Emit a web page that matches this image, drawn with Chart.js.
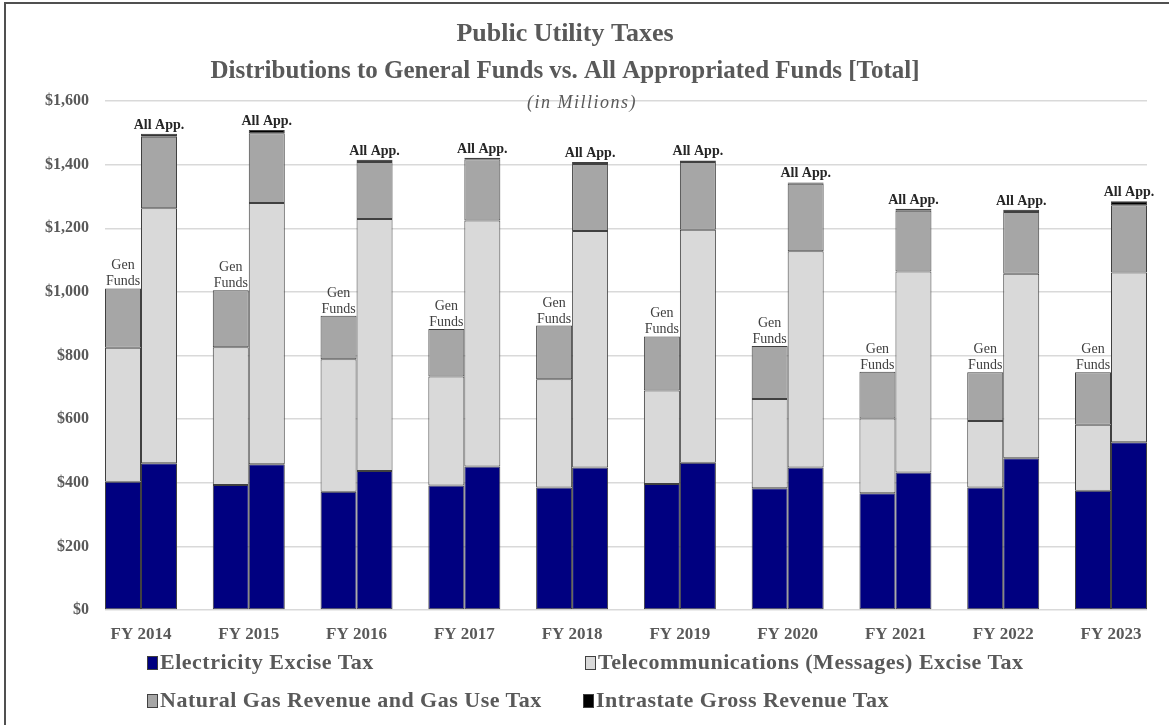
<!DOCTYPE html>
<html>
<head>
<meta charset="utf-8">
<script src="https://cdn.jsdelivr.net/npm/chart.js@4.4.1/dist/chart.umd.min.js"></script>
<style>
  html, body { margin: 0; padding: 0; background: #fff; }
  #wrap { position: relative; width: 1169px; height: 725px; overflow: hidden; background: #fff; }
  #frame { position: absolute; left: 4px; top: 2px; width: 1300px; height: 900px; border: 2px solid #505050; box-sizing: border-box; }
  #chart { position: absolute; left: 0; top: 0; }
  .lg { position: absolute; font-family: "Liberation Serif", "Times New Roman", serif; font-weight: bold; font-size: 22px; letter-spacing: 0.5px; color: #595959; white-space: nowrap; line-height: 24px; }
  .lg i { display: inline-block; width: 9px; height: 12px; border: 1px solid #404040; margin-right: 2px; vertical-align: -1px; }
</style>
</head>
<body>
<div id="wrap">
  <canvas id="chart" width="1169" height="725"></canvas>
  <div id="frame"></div>
  <div id="legend"></div>
</div>
<script>
// ---- data (in millions of dollars) ----
const categories = ['FY 2014', 'FY 2015', 'FY 2016', 'FY 2017', 'FY 2018', 'FY 2019', 'FY 2020', 'FY 2021', 'FY 2022', 'FY 2023'];
const seriesNames = ['Electricity Excise Tax', 'Telecommunications (Messages) Excise Tax', 'Natural Gas Revenue and Gas Use Tax', 'Intrastate Gross Revenue Tax'];
const genElectricity = [403, 393, 372, 391, 385, 396, 383, 367, 385, 375];
const genTelecom     = [421, 433, 416, 343, 340, 294, 280, 235, 209, 207];
const genGas         = [187, 179, 137, 149, 169, 170, 167, 147, 153, 165];
const allElectricity = [461, 458, 437, 451, 448, 463, 448, 432, 477, 527];
const allTelecom     = [802, 821, 792, 773, 743, 732, 680, 632, 580, 534];
const allGas         = [225, 220, 179, 193, 211, 213, 212, 191, 194, 211];
const allIntrastate  = [9, 10, 7, 5, 6, 5, 4, 6, 7, 13];
const stackLabels = { gen: ['Gen', 'Funds'], all: ['All App.'] };
const yMax = 1600, yStep = 200;

const colors = ['#000080', '#d9d9d9', '#a6a6a6', '#000000'];
const border = '#404040';
const SERIF = '"Liberation Serif", "Times New Roman", serif';

function ds(label, data, ci, stack) {
  return { label, data, stack, backgroundColor: colors[ci], borderColor: border, borderWidth: 1,
           borderSkipped: false, barPercentage: 1.0, categoryPercentage: 0.668 };
}

const datasets = [
  ds(seriesNames[0], genElectricity, 0, 'gen'),
  ds(seriesNames[1], genTelecom, 1, 'gen'),
  ds(seriesNames[2], genGas, 2, 'gen'),
  ds(seriesNames[0], allElectricity, 0, 'all'),
  ds(seriesNames[1], allTelecom, 1, 'all'),
  ds(seriesNames[2], allGas, 2, 'all'),
  ds(seriesNames[3], allIntrastate, 3, 'all')
];

const halfPair = 0.334;

const titlePlugin = {
  id: 'titles',
  afterDraw(chart) {
    const ctx = chart.ctx;
    ctx.save();
    ctx.fillStyle = '#595959';
    ctx.textAlign = 'center';
    ctx.textBaseline = 'alphabetic';
    ctx.font = 'bold 26px ' + SERIF;
    ctx.fillText('Public Utility Taxes', 565, 41);
    ctx.font = 'bold 25px ' + SERIF;
    ctx.fillText('Distributions to General Funds vs. All Appropriated Funds [Total]', 565, 78);
    ctx.font = 'italic 18px ' + SERIF;
    if ('letterSpacing' in ctx) ctx.letterSpacing = '1.5px';
    ctx.fillText('(in Millions)', 582, 108);
    ctx.restore();
  }
};

const stackLabelPlugin = {
  id: 'stackLabels',
  afterDatasetsDraw(chart) {
    const ctx = chart.ctx;
    const tops = {};
    chart.data.datasets.forEach((d, di) => {
      const meta = chart.getDatasetMeta(di);
      meta.data.forEach((el, i) => {
        const key = d.stack + i;
        if (!tops[key] || el.y < tops[key].y) tops[key] = { x: el.x, y: el.y, stack: d.stack };
      });
    });
    ctx.save();
    ctx.textAlign = 'center';
    ctx.textBaseline = 'alphabetic';
    Object.values(tops).forEach(t => {
      if (t.stack === 'gen') {
        ctx.fillStyle = '#404040';
        ctx.font = '14px ' + SERIF;
        ctx.fillText(stackLabels.gen[0], t.x, t.y - 19);
        ctx.fillText(stackLabels.gen[1], t.x, t.y - 3);
      } else {
        ctx.fillStyle = '#262626';
        ctx.font = 'bold 14px ' + SERIF;
        ctx.fillText(stackLabels.all[0], t.x, t.y - 5);
      }
    });
    ctx.restore();
  }
};

new Chart(document.getElementById('chart'), {
  type: 'bar',
  data: { labels: categories.map((_, i) => i), datasets },
  options: {
    responsive: false,
    animation: false,
    devicePixelRatio: 1,
    layout: { padding: { top: 101, right: 22, left: 0, bottom: 0 } },
    plugins: { legend: { display: false }, tooltip: { enabled: false }, title: { display: false } },
    scales: {
      x: {
        type: 'linear',
        stacked: true,
        min: -halfPair,
        max: categories.length - 1 + halfPair,
        offset: false,
        afterBuildTicks: s => { s.ticks = categories.map((_, i) => ({ value: i })); },
        afterFit: s => { s.height = 115; },
        grid: { display: false, drawTicks: false },
        border: { display: false },
        ticks: {
          autoSkip: false,
          maxRotation: 0,
          padding: 14,
          color: '#595959',
          font: { family: SERIF, size: 17, weight: 'bold' },
          callback: v => categories[v]
        }
      },
      y: {
        stacked: true,
        min: 0,
        max: yMax,
        afterFit: s => { s.width = 105; },
        grid: { color: '#d9d9d9', lineWidth: 1.5, drawTicks: false },
        border: { display: false },
        ticks: {
          stepSize: yStep,
          padding: 16,
          color: '#595959',
          font: { family: SERIF, size: 16, weight: 'bold' },
          callback: v => '$' + v.toLocaleString('en-US')
        }
      }
    }
  },
  plugins: [titlePlugin, stackLabelPlugin]
});

// HTML legend in two columns
const legendPos = [[147, 650], [585, 650], [147, 688], [583, 688]];
const lg = document.getElementById('legend');
seriesNames.forEach((name, i) => {
  const div = document.createElement('div');
  div.className = 'lg';
  div.style.left = legendPos[i][0] + 'px';
  div.style.top = legendPos[i][1] + 'px';
  const sw = document.createElement('i');
  sw.style.background = colors[i];
  div.appendChild(sw);
  div.appendChild(document.createTextNode(name));
  lg.appendChild(div);
});
</script>
</body>
</html>
